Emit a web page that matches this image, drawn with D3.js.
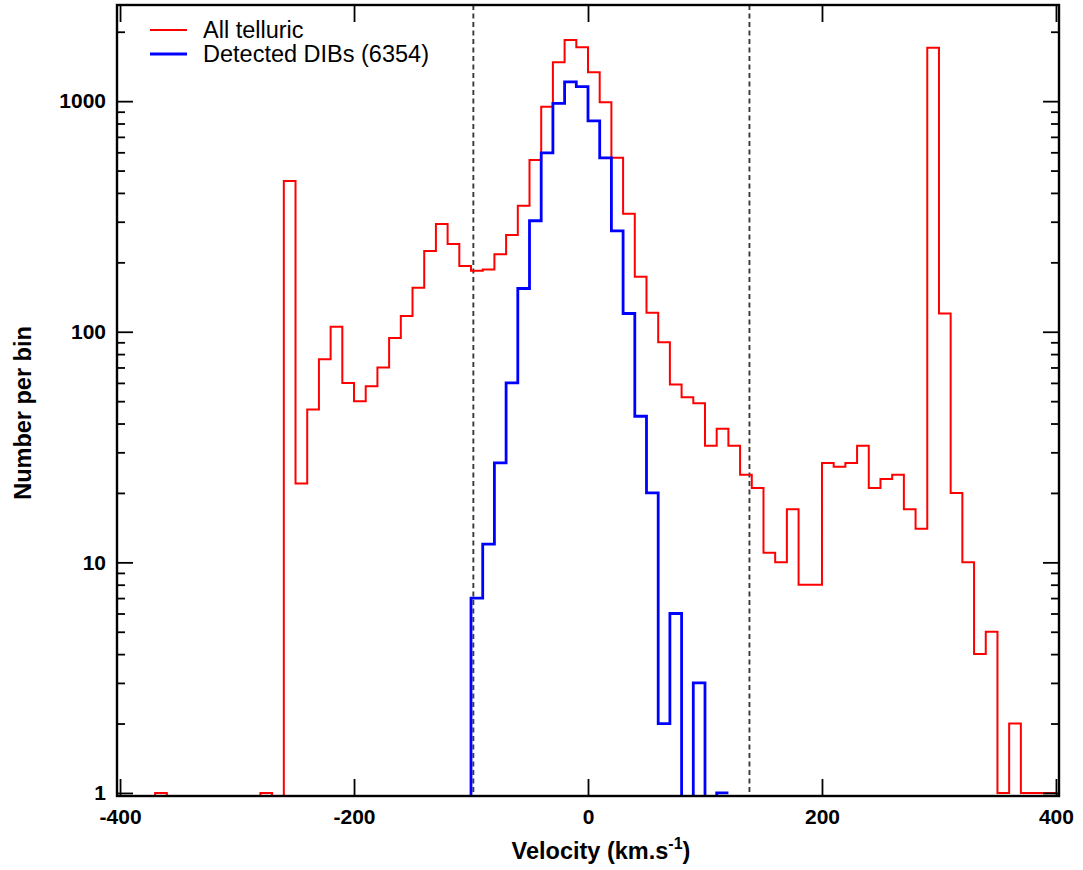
<!DOCTYPE html>
<html lang="en">
<head>
    <meta charset="UTF-8">
    <title>Velocity histogram</title>
    <script src="https://d3js.org/d3.v7.min.js"></script>
</head>
<style>
    html,body {
        margin: 0;
        padding: 0;
        background: #fff;
    }
    text {
        font-family: "Liberation Sans", Arial, sans-serif;
    }
</style>
<body>
    <div id="svg"></div>
</body>
<script>
    // histogram counts, 10 km/s bins starting at -400
    var binStart = -400;
    var binWidth = 10;
    var allTelluric = [
        0, 0, 0, 1, 0, 0, 0, 0, 0, 0, 0, 0, 1, 0,
        450, 22, 46, 76, 105, 60, 50, 58, 70, 94, 117, 155, 224, 293, 240, 193,
        184, 186, 217, 263, 352, 555, 946, 1473, 1841, 1711,
        1333, 988, 568, 325, 173, 121, 90, 59, 52, 49,
        32, 38, 32, 24, 21, 11, 10, 17, 8, 8,
        27, 26, 27, 32, 21, 23, 24, 17, 14, 1704,
        120, 20, 10, 4, 5, 1, 2, 1, 1, 1
    ];
    // detected DIBs, bins starting at -110
    var dibStart = -110;
    var detectedDIBs = [
        0, 7, 12, 27, 60, 154, 303, 597, 978, 1213, 1155,
        822, 568, 274, 120, 43, 20, 2, 6, 0, 3, 0, 1
    ];
    var xTicks = [-400, -200, 0, 200, 400];
    var yTicks = [1, 10, 100, 1000];
    var cutLines = [-98, 138];
    var legendItems = [
        {label: 'All telluric', color: '#ff0000', width: 2},
        {label: 'Detected DIBs (6354)', color: '#0000ff', width: 2.8}
    ];

    var W = 1083, H = 870;
    // plot frame (avoid the name "top", it is window.top)
    var pL = 117, pR = 1059, pT = 5, pB = 796;

    const svg = d3.select('#svg').append('svg')
        .attr('width', W)
        .attr('height', H);

    var x = d3.scaleLinear().domain([-402.6, 402.6]).range([pL, pR]);
    var y = d3.scaleLog().domain([0.97, 2612]).range([pB, pT]);

    // minor ticks 2..9 for each decade
    var minor = [];
    [1, 10, 100, 1000].forEach(d => {
        for (let k = 2; k <= 9; k++) {
            if (d * k < 2612) minor.push(d * k);
        }
    });

    svg.append('defs').append('clipPath').attr('id', 'plot')
        .append('rect')
        .attr('x', pL).attr('y', pT)
        .attr('width', pR - pL).attr('height', pB - pT);

    // dashed velocity cuts
    svg.append('g').selectAll('line')
        .data(cutLines)
        .enter()
        .append('line')
        .attr('x1', d => x(d)).attr('x2', d => x(d))
        .attr('y1', pT).attr('y2', pB)
        .attr('stroke', '#3a3a3a')
        .attr('stroke-width', 1.9)
        .attr('stroke-dasharray', '5,3.5');

    function steps(counts, start) {
        var pts = counts.map((c, i) => [start + i * binWidth, c]);
        pts.push([start + counts.length * binWidth, counts[counts.length - 1]]);
        return pts;
    }
    // zero bins fall far below the frame and get clipped
    var line = d3.line()
        .x(d => x(d[0]))
        .y(d => d[1] > 0 ? y(d[1]) : pB + 500)
        .curve(d3.curveStepAfter);

    var plot = svg.append('g').attr('clip-path', 'url(#plot)');
    plot.append('path')
        .attr('d', line(steps(allTelluric, binStart)))
        .attr('fill', 'none')
        .attr('stroke', legendItems[0].color)
        .attr('stroke-width', legendItems[0].width);
    plot.append('path')
        .attr('d', line(steps(detectedDIBs, dibStart)))
        .attr('fill', 'none')
        .attr('stroke', legendItems[1].color)
        .attr('stroke-width', legendItems[1].width);

    // axes, ticks pointing inwards
    var tickFont = g => g.selectAll('text')
        .attr('font-size', 21)
        .attr('font-weight', 'bold')
        .attr('font-family', '"Liberation Sans", Arial, sans-serif')
        .attr('fill', '#000');
    var fmt = d => String(d);

    svg.append('g')
        .attr('transform', `translate(0,${pB})`)
        .call(d3.axisBottom(x).tickValues(xTicks).tickSize(-17).tickFormat(fmt))
        .call(g => g.select('.domain').remove())
        .call(g => g.selectAll('text').attr('y', 13).attr('dy', '0.71em'))
        .call(tickFont);
    svg.append('g')
        .attr('transform', `translate(0,${pT})`)
        .call(d3.axisTop(x).tickValues(xTicks).tickSize(-17).tickFormat(''))
        .call(g => g.select('.domain').remove());

    svg.append('g')
        .attr('transform', `translate(${pL},0)`)
        .call(d3.axisLeft(y).tickValues(yTicks).tickSize(-16).tickFormat(fmt))
        .call(g => g.select('.domain').remove())
        .call(g => g.selectAll('text').attr('x', -11))
        .call(tickFont);
    svg.append('g')
        .attr('transform', `translate(${pL},0)`)
        .call(d3.axisLeft(y).tickValues(minor).tickSize(-8).tickFormat(''))
        .call(g => g.select('.domain').remove());
    svg.append('g')
        .attr('transform', `translate(${pR},0)`)
        .call(d3.axisRight(y).tickValues(yTicks).tickSize(-16).tickFormat(''))
        .call(g => g.select('.domain').remove());
    svg.append('g')
        .attr('transform', `translate(${pR},0)`)
        .call(d3.axisRight(y).tickValues(minor).tickSize(-8).tickFormat(''))
        .call(g => g.select('.domain').remove());

    svg.selectAll('.tick line').attr('stroke', '#000').attr('stroke-width', 1.8);

    // frame
    svg.append('rect')
        .attr('x', pL).attr('y', pT)
        .attr('width', pR - pL).attr('height', pB - pT)
        .attr('fill', 'none')
        .attr('stroke', '#000')
        .attr('stroke-width', 2.4);

    // axis titles
    var xt = svg.append('text')
        .attr('x', 601).attr('y', 859)
        .attr('text-anchor', 'middle')
        .style('font-size', '23.5px')
        .style('font-weight', 'bold');
    xt.append('tspan').text('Velocity (km.s');
    xt.append('tspan').attr('dy', -10).style('font-size', '16px').text('-1');
    xt.append('tspan').attr('dy', 10).text(')');

    svg.append('text')
        .attr('transform', 'translate(31,413) rotate(-90)')
        .attr('text-anchor', 'middle')
        .style('font-size', '23.5px')
        .style('font-weight', 'bold')
        .text('Number per bin');

    // legend
    var leg = svg.append('g').selectAll('g')
        .data(legendItems)
        .enter()
        .append('g')
        .attr('transform', (d, i) => `translate(0,${30 + i * 24})`);
    leg.append('line')
        .attr('x1', 150).attr('x2', 187)
        .attr('stroke', d => d.color)
        .attr('stroke-width', d => d.width);
    leg.append('text')
        .attr('x', 203).attr('y', 7.5)
        .style('font-size', '23.5px')
        .text(d => d.label);
</script>
</html>
